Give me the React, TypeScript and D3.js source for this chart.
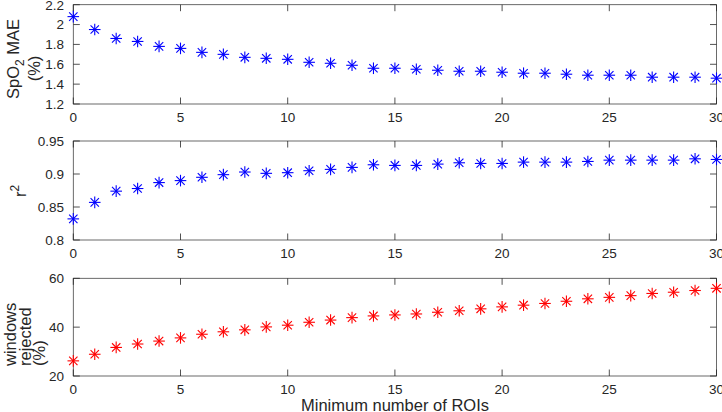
import React from "react";
import * as d3 from "d3";

const rois = [0,1,2,3,4,5,6,7,8,9,10,11,12,13,14,15,16,17,18,19,20,21,22,23,24,25,26,27,28,29,30];
const maeValues = [2.08,1.95,1.86,1.83,1.78,1.76,1.72,1.70,1.67,1.66,1.65,1.62,1.61,1.59,1.56,1.56,1.55,1.54,1.53,1.53,1.52,1.51,1.51,1.50,1.49,1.49,1.49,1.47,1.47,1.47,1.46];
const r2Values = [0.832,0.857,0.874,0.878,0.887,0.890,0.895,0.899,0.903,0.901,0.902,0.905,0.907,0.910,0.914,0.913,0.913,0.915,0.917,0.916,0.916,0.918,0.918,0.918,0.919,0.921,0.921,0.921,0.921,0.923,0.922];
const rejectedValues = [26.2,28.9,31.7,33.1,34.3,35.6,37.1,38.1,38.9,40.1,40.8,42.0,42.9,43.9,44.6,45.0,45.4,46.1,46.7,47.5,48.3,49.0,49.7,50.6,51.6,52.2,52.9,53.8,54.3,55.0,55.9];
const xTicks = [0,5,10,15,20,25,30];
const maeTicks = [1.2,1.4,1.6,1.8,2,2.2];
const r2Ticks = [0.8,0.85,0.9,0.95];
const rejTicks = [20,40,60];

const W = 722, H = 412;
const left = 73.3, right = 716.5;
const axisColor = "#262626";
const font = "'Liberation Sans', Arial, Helvetica, sans-serif";

const x = d3.scaleLinear().domain([0, 30]).range([left, right]);

function Star({ cx, cy, color }: { cx: number; cy: number; color: string }) {
  const r = 5.8;
  const d = r * 0.72;
  return (
    <g stroke={color} strokeWidth={1.1}>
      <line x1={cx - r} y1={cy} x2={cx + r} y2={cy} />
      <line x1={cx} y1={cy - r} x2={cx} y2={cy + r} />
      <line x1={cx - d} y1={cy - d} x2={cx + d} y2={cy + d} />
      <line x1={cx - d} y1={cy + d} x2={cx + d} y2={cy - d} />
    </g>
  );
}

function Panel({ top, bottom, domain, ticks, values, color, fmt }: any) {
  const y = d3.scaleLinear().domain(domain).range([bottom, top]);
  const tl = 6.5;
  return (
    <g>
      <rect x={left} y={top} width={right - left} height={bottom - top} fill="white" stroke="none" />
      {xTicks.map((t) => (
        <g key={"x" + t}>
          <line x1={x(t)} x2={x(t)} y1={bottom} y2={bottom - tl} stroke={axisColor} strokeWidth={0.8} />
          <line x1={x(t)} x2={x(t)} y1={top} y2={top + tl} stroke={axisColor} strokeWidth={0.8} />
          <text x={x(t)} y={bottom + 17.5} textAnchor="middle" fontSize={13.5} fill={axisColor} fontFamily={font}>{t}</text>
        </g>
      ))}
      {ticks.map((t: number) => (
        <g key={"y" + t}>
          <line x1={left} x2={left + tl} y1={y(t)} y2={y(t)} stroke={axisColor} strokeWidth={0.8} />
          <line x1={right} x2={right - tl} y1={y(t)} y2={y(t)} stroke={axisColor} strokeWidth={0.8} />
          <text x={64} y={y(t)} dy="0.36em" textAnchor="end" fontSize={13.5} fill={axisColor} fontFamily={font}>{fmt(t)}</text>
        </g>
      ))}
      <rect x={left} y={top} width={right - left} height={bottom - top} fill="none" stroke={axisColor} strokeWidth={0.8} opacity={0.85} />
      {values.map((v: number, i: number) => (
        <Star key={i} cx={x(rois[i])} cy={y(v)} color={color} />
      ))}
    </g>
  );
}

export default function App() {
  return (
    <svg width={W} height={H} style={{ position: "absolute", left: 0, top: 0, background: "white" }}>
      <rect width={W} height={H} fill="white" />
      <Panel top={4.7} bottom={104} domain={[1.2, 2.2]} ticks={maeTicks} values={maeValues} color="#0000ff" fmt={(t: number) => String(t)} />
      <Panel top={141} bottom={240} domain={[0.8, 0.95]} ticks={r2Ticks} values={r2Values} color="#0000ff" fmt={(t: number) => String(t)} />
      <Panel top={278.3} bottom={376} domain={[20, 60]} ticks={rejTicks} values={rejectedValues} color="#ff0000" fmt={(t: number) => String(t)} />

      <g fontFamily={font} fill={axisColor} fontSize={16.5}>
        <text transform="translate(19,59) rotate(-90)" textAnchor="middle">
          SpO<tspan fontSize={12} dy={4.5}>2</tspan><tspan dy={-4.5}> MAE</tspan>
        </text>
        <text transform="translate(39.5,68.5) rotate(-90)" textAnchor="middle">(%)</text>

        <text transform="translate(26,191) rotate(-90)" textAnchor="middle">
          r<tspan fontSize={12} dy={-7.5}>2</tspan>
        </text>

        <text transform="translate(15.5,366) rotate(-90)" textAnchor="start">windows</text>
        <text transform="translate(31,366) rotate(-90)" textAnchor="start">rejected</text>
        <text transform="translate(44.5,366) rotate(-90)" textAnchor="start">(%)</text>

        <text x={395} y={410.5} textAnchor="middle">Minimum number of ROIs</text>
      </g>
    </svg>
  );
}
